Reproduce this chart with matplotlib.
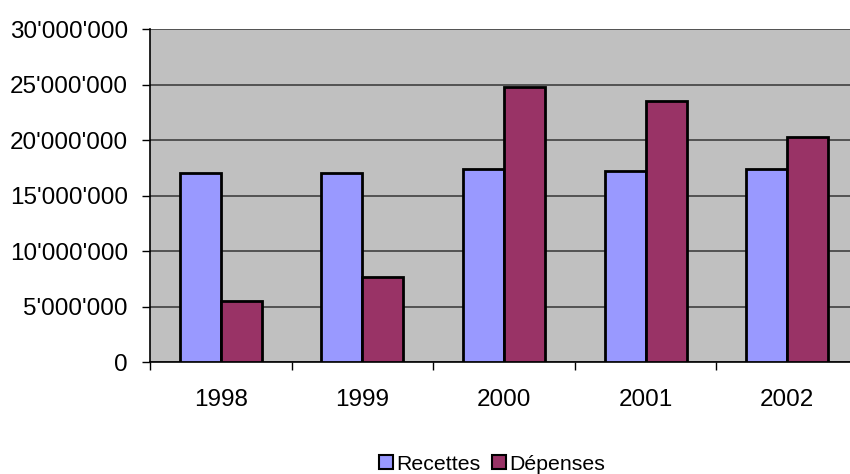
import matplotlib
matplotlib.use("Agg")
import matplotlib.pyplot as plt
import numpy as np
from matplotlib.ticker import FuncFormatter

years = ["1998", "1999", "2000", "2001", "2002"]
recettes = [17040000, 17040000, 17400000, 17250000, 17400000]
depenses = [5520000, 7680000, 24800000, 23500000, 20300000]
series_names = ["Recettes", "Dépenses"]

plt.rcParams['font.family'] = ['Liberation Sans', 'DejaVu Sans']

fig = plt.figure(figsize=(8.5, 4.74), dpi=100)
ax = fig.add_axes([150/850, 111.7/474, 708/850, 333.3/474])
ax.set_facecolor('#C0C0C0')

x = np.arange(len(years))
w = 0.29
ax.bar(x - w/2, recettes, w, color='#9999FF', edgecolor='black', linewidth=2.0,
       label=series_names[0], zorder=3)
ax.bar(x + w/2, depenses, w, color='#993366', edgecolor='black', linewidth=2.0,
       label=series_names[1], zorder=3)

ax.set_xlim(-0.5, 4.5)
ax.set_ylim(0, 30000000)
ax.set_yticks(np.arange(0, 30000001, 5000000))
ax.yaxis.set_major_formatter(FuncFormatter(lambda v, p: f"{int(v):,}".replace(",", "'")))
ax.set_xticks(np.arange(-0.5, 4.6, 1.0))
ax.set_xticklabels([])
ax.set_xticks(x, minor=True)
ax.set_xticklabels(years, minor=True)
ax.tick_params(axis='x', which='minor', length=0, pad=19, labelsize=17.5)
ax.tick_params(axis='x', which='major', length=6, width=1, direction='out', color='black')
ax.tick_params(axis='y', length=6, width=1, direction='out', pad=10, labelsize=17.5)

ax.yaxis.grid(True, color='#404040', linewidth=1.2, zorder=0)
ax.set_axisbelow(True)
for s in ['top', 'right']:
    ax.spines[s].set_visible(False)
ax.spines['left'].set_color('black')
ax.spines['bottom'].set_color('black')
ax.spines['left'].set_linewidth(1.2)
ax.spines['bottom'].set_linewidth(1.2)

leg = fig.legend(loc='center', bbox_to_anchor=(492/850, 10/474), ncol=2, frameon=False,
                 fontsize=15.3, handlelength=0.65, handleheight=0.65, handletextpad=0.15,
                 columnspacing=0.55, borderpad=0)
for h in leg.legend_handles:
    h.set_linewidth(1.5)

fig.savefig("out.png", dpi=100)
